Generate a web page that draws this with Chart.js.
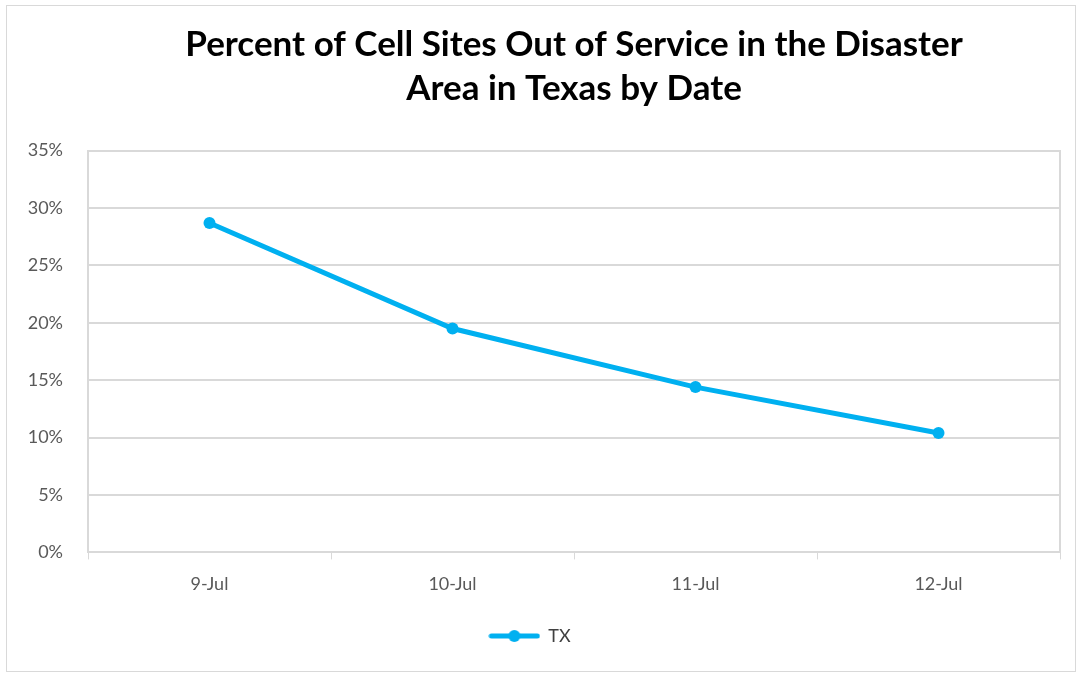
<!DOCTYPE html>
<html>
<head>
<meta charset="utf-8">
<script src="https://cdn.jsdelivr.net/npm/chart.js@4"></script>
<style>
  html, body { margin: 0; padding: 0; background: #fff; }
  #wrap { position: absolute; left: 0; top: 0; width: 1079px; height: 675px; }
</style>
</head>
<body>
<div id="wrap"><canvas id="chart"></canvas></div>
<script>
// data
const dates = ["9-Jul", "10-Jul", "11-Jul", "12-Jul"];
const txValues = [28.7, 19.5, 14.4, 10.4];
const titleLines = ["Percent of Cell Sites Out of Service in the Disaster", "Area in Texas by Date"];

const LINE_COLOR = "#00b0f0";
const GRID_COLOR = "#d9d9d9";
const TEXT_COLOR = "#595959";

// legend symbol: line with a dot in the middle
function legendSymbol() {
  const c = document.createElement("canvas");
  c.width = 52; c.height = 14;
  const g = c.getContext("2d");
  g.strokeStyle = LINE_COLOR;
  g.lineWidth = 5;
  g.lineCap = "round";
  g.beginPath(); g.moveTo(3, 7); g.lineTo(49, 7); g.stroke();
  g.fillStyle = LINE_COLOR;
  g.beginPath(); g.arc(26, 7, 6, 0, Math.PI * 2); g.fill();
  return c;
}

// thin frame round the whole chart
const frame = {
  id: "frame",
  beforeDraw(chart) {
    const ctx = chart.ctx;
    ctx.save();
    ctx.strokeStyle = GRID_COLOR;
    ctx.lineWidth = 1;
    ctx.strokeRect(6.5, 5.5, chart.width - 10, chart.height - 9);
    ctx.restore();
  }
};

new Chart(document.getElementById("chart"), {
  type: "line",
  data: {
    labels: dates,
    datasets: [{
      label: "TX",
      data: txValues,
      borderColor: LINE_COLOR,
      backgroundColor: LINE_COLOR,
      borderWidth: 5,
      pointRadius: 6,
      pointHoverRadius: 6,
      pointBackgroundColor: LINE_COLOR,
      pointBorderWidth: 0,
      tension: 0,
    }]
  },
  plugins: [frame],
  options: {
    responsive: true,
    maintainAspectRatio: false,
    animation: false,
    layout: { padding: { top: 22, right: 19, bottom: 20, left: 0 } },
    plugins: {
      title: {
        display: true,
        fullSize: false,
        text: titleLines,
        color: "#000",
        font: { family: "Lato", size: 35, weight: "bold", lineHeight: 1.28 },
        padding: { top: 0, bottom: 39 }
      },
      legend: {
        position: "bottom",
        labels: {
          usePointStyle: true,
          pointStyle: legendSymbol(),
          pointStyleWidth: 50,
          color: "#404040",
          font: { family: "Lato", size: 18 },
          padding: 18,
        }
      },
      tooltip: { enabled: false }
    },
    scales: {
      x: {
        offset: true,
        grid: {
          offset: true,
          drawOnChartArea: false,
          drawTicks: true,
          tickLength: 7,
          color: GRID_COLOR,
        },
        border: { color: GRID_COLOR, width: 2 },
        ticks: { color: TEXT_COLOR, font: { family: "Lato", size: 18 }, padding: 14 }
      },
      y: {
        min: 0,
        max: 35,
        afterFit: (s) => { s.width = 88; },
        grid: { color: GRID_COLOR, lineWidth: 2, drawTicks: false },
        border: { color: GRID_COLOR, width: 2 },
        ticks: {
          stepSize: 5,
          color: TEXT_COLOR,
          font: { family: "Lato", size: 18 },
          padding: 25,
          callback: (v) => v + "%"
        }
      },
      yRight: {
        position: "right",
        min: 0,
        max: 35,
        grid: { drawOnChartArea: false, drawTicks: false },
        border: { color: GRID_COLOR, width: 2 },
        ticks: { display: false }
      }
    }
  }
});
</script>
</body>
</html>
